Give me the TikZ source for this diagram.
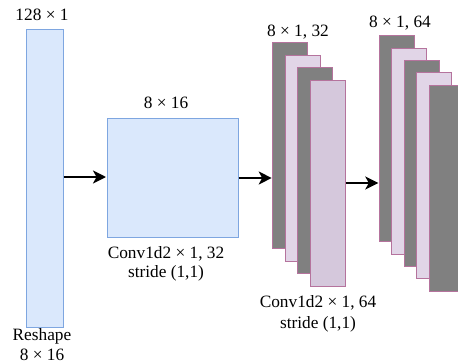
\documentclass[tikz,border=0pt]{standalone}
\usepackage{fontspec}
\setmainfont{Liberation Serif}
\usetikzlibrary{arrows.meta}
\definecolor{bfill}{HTML}{DAE8FC}
\definecolor{bdraw}{HTML}{7EA6E0}
\definecolor{pfill}{HTML}{E1D5E7}
\definecolor{pfilld}{HTML}{D5C8DC}
\definecolor{pdraw}{HTML}{B5739D}
\definecolor{gfill}{HTML}{808080}
\tikzset{
  bluebox/.style={draw=bdraw, fill=bfill, line width=1pt, inner sep=0pt},
  graybar/.style={draw=pdraw, fill=gfill, line width=1pt, inner sep=0pt, minimum width=35, minimum height=206},
  lilacbar/.style={draw=pdraw, fill=pfill, line width=1pt, inner sep=0pt, minimum width=35, minimum height=206},
  lilacbard/.style={draw=pdraw, fill=pfilld, line width=1pt, inner sep=0pt, minimum width=35, minimum height=206},
  lbl/.style={inner sep=0pt, font=\fontsize{17.3}{20}\selectfont},
  arr/.style={-{Stealth[length=13pt,width=13pt,inset=3.5pt]}, line width=2pt, black, shorten >=0.5pt}
}
\begin{document}
\begin{tikzpicture}[x=1pt,y=-1pt]
\useasboundingbox (0,0) rectangle (458,364);
\node[bluebox, minimum width=37, minimum height=298] (bar) at (44.5,178) {};
\node[bluebox, minimum width=131, minimum height=119] (box) at (172.5,177.5) {};
% group 3
\node[graybar] (ga) at (290.2,145.3) {};
\node[lilacbar] (gb) at (302.7,158) {};
\node[graybar] (gc) at (315,170.5) {};
\node[lilacbard] (gd) at (327.5,183) {};
% group 4
\node[graybar] (ha) at (396.8,138.7) {};
\node[lilacbar] (hb) at (409.2,151.3) {};
\node[graybar] (hc) at (421.5,163.7) {};
\node[lilacbar] (hd) at (434.2,175.7) {};
\node[graybar] (he) at (446.5,188) {};
% arrows
\draw[arr] (bar.east |- 0,177) -- (box.west |- 0,177);
\draw[arr] (box.east |- 0,178) -- (ga.west |- 0,178);
\draw[arr] (gd.east |- 0,183) -- (ha.west |- 0,183);
% labels
\node[lbl] (t1) at (42,15) {128 × 1};
\node[lbl] (t2) at (42,336) {Reshape};
\node[lbl] (t3) at (42,355) {8 × 16};
\node[lbl] (t4) at (166,103) {8 × 16};
\node[lbl] (t5) at (166,254) {Conv1d2 × 1, 32};
\node[lbl] (t6) at (166,273) {stride (1,1)};
\node[lbl] (t7) at (298,32) {8 × 1, 32};
\node[lbl] (t8) at (318,303) {Conv1d2 × 1, 64};
\node[lbl] (t9) at (318,324) {stride (1,1)};
\node[lbl] (t10) at (400,23) {8 × 1, 64};
\end{tikzpicture}
\end{document}
